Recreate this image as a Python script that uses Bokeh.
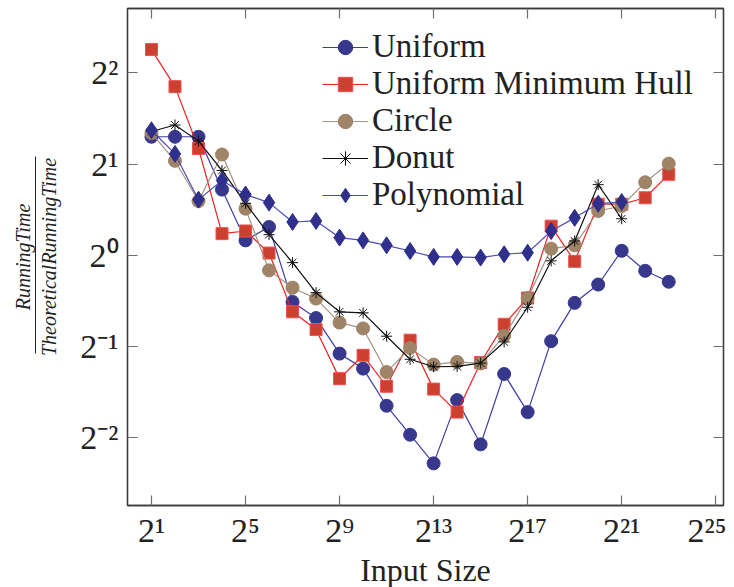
from bokeh.plotting import figure
from bokeh.models import FixedTicker, LogAxis, Legend, LegendItem, ColumnDataSource
from bokeh.embed import file_html
from bokeh.resources import INLINE

# ---------------- data ----------------
input_size = [2, 4, 8, 16, 32, 64, 128, 256, 512, 1024, 2048, 4096, 8192, 16384,
              32768, 65536, 131072, 262144, 524288, 1048576, 2097152, 4194304, 8388608]

uniform = [2.46, 2.46, 2.46, 1.647, 1.12, 1.24, 0.702, 0.621, 0.474, 0.423, 0.319, 0.256,
           0.206, 0.333, 0.238, 0.406, 0.304, 0.521, 0.697, 0.801, 1.035, 0.889, 0.818]
uniform_min_hull = [4.77, 3.60, 2.25, 1.179, 1.203, 1.017, 0.651, 0.569, 0.392, 0.468, 0.370,
                    0.525, 0.362, 0.304, 0.443, 0.592, 0.723, 1.248, 0.955, 1.474, 1.474,
                    1.548, 1.849]
circle = [2.53, 2.05, 1.51, 2.15, 1.425, 0.892, 0.782, 0.720, 0.600, 0.574, 0.412, 0.495,
          0.436, 0.445, 0.440, 0.543, 0.723, 1.052, 1.079, 1.40, 1.454, 1.741, 2.006]
donut = [2.56, 2.69, 2.38, 1.905, 1.484, 1.170, 0.946, 0.753, 0.651, 0.646, 0.541, 0.454,
         0.429, 0.430, 0.441, 0.518, 0.674, 0.959, 1.115, 1.710, 1.320]
polynomial = [2.585, 2.16, 1.526, 1.765, 1.586, 1.492, 1.288, 1.298, 1.144, 1.120, 1.079,
              1.033, 0.988, 0.988, 0.983, 1.008, 1.020, 1.202, 1.329, 1.480, 1.499]

x_ticks = [2, 32, 512, 8192, 131072, 2097152, 33554432]
x_tick_labels = ["2\u00b9", "2\u2075", "2\u2079", "2\u00b9\u00b3", "2\u00b9\u2077", "2\u00b2\u00b9", "2\u00b2\u2075"]
y_ticks = [0.25, 0.5, 1, 2, 4]
y_tick_labels = ["2\u207b\u00b2", "2\u207b\u00b9", "2\u2070", "2\u00b9", "2\u00b2"]

series_names = ["Uniform", "Uniform Minimum Hull", "Circle", "Donut", "Polynomial"]
y_label_numerator = "RunningTime"
y_label_denominator = "TheoreticalRunningTime"
x_label = "Input Size"

FONT = "Liberation Serif"

p = figure(frame_width=596, frame_height=497, x_axis_type="log", y_axis_type="log",
           x_range=(2 ** -0.02, 2 ** 25.33), y_range=(2 ** -2.741, 2 ** 2.704),
           output_backend="svg", toolbar_location=None,
           min_border_left=127, min_border_right=3, min_border_top=8, min_border_bottom=74)
p.xgrid.visible = False
p.ygrid.visible = False
p.outline_line_color = "#3a3a3a"
p.outline_line_width = 1.3
p.background_fill_color = "white"
p.border_fill_color = "white"

def style_axis(ax, ticks, labels, show_labels=True):
    ax.ticker = FixedTicker(ticks=ticks, minor_ticks=[])
    ax.major_label_overrides = {t: (l if show_labels else "") for t, l in zip(ticks, labels)}
    ax.major_tick_in = 10
    ax.major_tick_out = 0
    ax.minor_tick_in = 0
    ax.minor_tick_out = 0
    ax.major_tick_line_color = "#707070"
    ax.major_tick_line_width = 1.2
    ax.axis_line_color = "#3a3a3a"
    ax.axis_line_width = 1.3
    ax.major_label_text_font = FONT
    ax.major_label_text_color = "#222222"
    if show_labels:
        ax.major_label_text_font_size = "34px"
    else:
        ax.major_label_text_font_size = "0px"
        ax.major_label_standoff = 0

style_axis(p.xaxis[0], x_ticks, x_tick_labels)
style_axis(p.yaxis[0], y_ticks, y_tick_labels)
p.xaxis[0].major_label_standoff = 6
p.yaxis[0].major_label_standoff = 9
p.xaxis[0].axis_label = x_label
p.xaxis[0].axis_label_text_font = FONT
p.xaxis[0].axis_label_text_font_style = "normal"
p.xaxis[0].axis_label_text_font_size = "32px"
p.xaxis[0].axis_label_text_color = "#222222"
p.xaxis[0].axis_label_standoff = 0

# denominator of the y label on the main axis
p.yaxis[0].axis_label = y_label_denominator
p.yaxis[0].axis_label_text_font = FONT
p.yaxis[0].axis_label_text_font_style = "italic"
p.yaxis[0].axis_label_text_font_size = "20px"
p.yaxis[0].axis_label_text_color = "#222222"
p.yaxis[0].axis_label_standoff = 17

top_axis = LogAxis()
style_axis(top_axis, x_ticks, x_tick_labels, show_labels=False)
p.add_layout(top_axis, "above")
right_axis = LogAxis()
style_axis(right_axis, y_ticks, y_tick_labels, show_labels=False)
p.add_layout(right_axis, "right")

# fraction bar: an axis line limited to the label's extent
bar_axis = LogAxis(ticker=FixedTicker(ticks=[]), bounds=(2 ** -1.08, 2 ** 1.08))
bar_axis.major_label_text_font_size = "0px"
bar_axis.major_label_standoff = 0
bar_axis.major_tick_in = 0
bar_axis.major_tick_out = 0
bar_axis.minor_tick_in = 0
bar_axis.minor_tick_out = 0
bar_axis.axis_line_color = "#222222"
bar_axis.axis_line_width = 1.0
p.add_layout(bar_axis, "left")

# numerator of the y label
num_axis = LogAxis(ticker=FixedTicker(ticks=[]))
num_axis.major_label_text_font_size = "0px"
num_axis.major_label_standoff = 0
num_axis.major_tick_in = 0
num_axis.major_tick_out = 0
num_axis.minor_tick_in = 0
num_axis.minor_tick_out = 0
num_axis.axis_line_color = None
num_axis.axis_label = y_label_numerator
num_axis.axis_label_text_font = FONT
num_axis.axis_label_text_font_style = "italic"
num_axis.axis_label_text_font_size = "20px"
num_axis.axis_label_text_color = "#222222"
num_axis.axis_label_standoff = 2
p.add_layout(num_axis, "left")

# ---------------- series ----------------
styles = [
    dict(line="#3c3ca8", marker="circle", fill="#37378c", mline="#37378c", size=13),
    dict(line="#ee2222", marker="square", fill="#cc4030", mline="#f05050", size=12),
    dict(line="#a39282", marker="circle_x", fill="#a08566", mline="#9a8068", size=13),
    dict(line="#111111", marker="asterisk", fill="#111111", mline="#111111", size=11),
    dict(line="#4a4ab8", marker="diamond", fill="#2f2f8c", mline="#2f2f8c", size=17),
]
all_values = [uniform, uniform_min_hull, circle, donut, polynomial]

items = []
for name, vals, st in zip(series_names, all_values, styles):
    src = ColumnDataSource(dict(x=input_size[:len(vals)], y=vals))
    lr = p.line("x", "y", source=src, line_color=st["line"], line_width=1.2)
    sr = p.scatter("x", "y", source=src, marker=st["marker"], size=st["size"],
                   fill_color=st["fill"], line_color=st["mline"], line_width=1.0)
    items.append(LegendItem(label=name, renderers=[lr, sr]))

legend = Legend(items=items, location=(195, 292), orientation="vertical",
                glyph_width=46, glyph_height=36, label_height=36, spacing=-1,
                label_standoff=4, padding=0, margin=0,
                border_line_alpha=0, background_fill_alpha=0,
                label_text_font=FONT, label_text_font_size="33px",
                label_text_color="#222222")
p.add_layout(legend)

open("out.html", "w").write(file_html(p, INLINE))
